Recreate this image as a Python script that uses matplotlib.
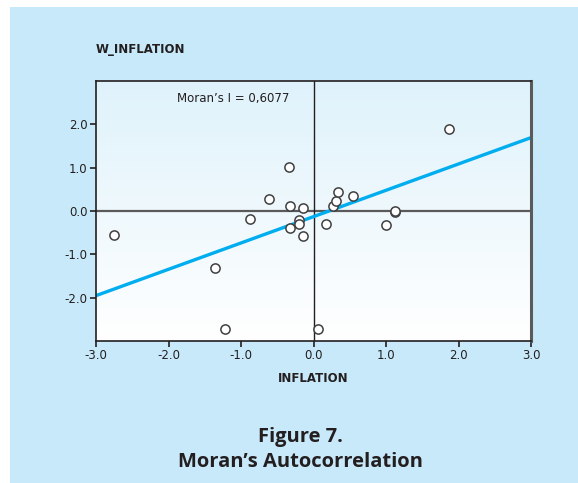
import matplotlib
matplotlib.use('Agg')
import matplotlib.pyplot as plt
import numpy as np

# data
inflation = [-2.75, -1.36, -1.22, -0.87, -0.62, -0.34, -0.32, -0.32, -0.20, -0.20,
             -0.15, -0.15, 0.06, 0.17, 0.27, 0.31, 0.34, 0.55, 1.00, 1.12, 1.13, 1.87]
w_inflation = [-0.55, -1.32, -2.72, -0.18, 0.28, 1.02, 0.11, -0.39, -0.21, -0.31,
               0.08, -0.58, -2.72, -0.30, 0.12, 0.23, 0.43, 0.34, -0.33, -0.02, -0.01, 1.89]
morans_i = 0.6077
intercept = -0.13
x_ticks = [-3.0, -2.0, -1.0, 0.0, 1.0, 2.0, 3.0]
y_ticks = [-2.0, -1.0, 0.0, 1.0, 2.0]

BG = '#c8e9f9'
DARK = '#231f20'
NARROW = ['Liberation Sans Narrow', 'DejaVu Sans']

plt.rcParams['font.family'] = ['Open Sans', 'DejaVu Sans']

fig = plt.figure(figsize=(5.78, 4.83), dpi=100)
fig.patch.set_facecolor('white')
# blue panel (white strip on the left and top)
panel = plt.Rectangle((10 / 578, 0), 1, 1 - 7 / 483, transform=fig.transFigure,
                      facecolor=BG, edgecolor='none', zorder=-10)
fig.patches.append(panel)

ax = fig.add_axes([96 / 578, 1 - 341 / 483, 435 / 578, 260 / 483])
ax.set_zorder(1)

# light blue -> white gradient inside the plot area
grad = np.linspace(0, 1, 256).reshape(-1, 1)
cmap = matplotlib.colors.LinearSegmentedColormap.from_list('bg', ['#dff2fb', '#ffffff'])
ax.imshow(grad, aspect='auto', cmap=cmap, extent=[-3, 3, -3, 3], origin='upper', zorder=0)
ax.set_xlim(-3, 3)
ax.set_ylim(-3, 3)

ax.axhline(0, color='#5a5a5a', linewidth=1.6, zorder=1)
ax.axvline(0, color=DARK, linewidth=1.0, zorder=1)

xs = np.array([-3, 3])
ax.plot(xs, morans_i * xs + intercept, color='#00aeef', linewidth=2.4, zorder=2)

ax.scatter(inflation, w_inflation, s=44, facecolor='white', edgecolor='#404040',
           linewidth=1.1, zorder=3)

ax.text(-1.11, 2.6, "Moran’s I = 0,6077", fontsize=8.5, color=DARK, ha='center', va='center',
        family=NARROW)

ax.set_xticks(x_ticks)
ax.set_xticklabels([f'{t:.1f}' for t in x_ticks])
ax.set_yticks(y_ticks)
ax.set_yticklabels([f'{t:.1f}' for t in y_ticks])
ax.tick_params(direction='out', length=4, width=1.2, color=DARK, labelsize=8.5,
               labelcolor=DARK, pad=2)
for lab in ax.get_xticklabels() + ax.get_yticklabels():
    lab.set_family(NARROW)

for side in ['left', 'bottom', 'top']:
    ax.spines[side].set_color(DARK)
    ax.spines[side].set_linewidth(1.2)
ax.spines['right'].set_color('#5a5a5a')
ax.spines['right'].set_linewidth(2.2)

fig.text(96 / 578, 1 - 50 / 483, 'W_INFLATION', fontsize=8.5, fontweight='bold', color=DARK,
         ha='left', va='center', family=NARROW)
fig.text(313 / 578, 1 - 379 / 483, 'INFLATION', fontsize=8.5, fontweight='bold', color=DARK,
         ha='center', va='center', family=NARROW)
fig.text(300 / 578, 1 - 437 / 483, 'Figure 7.', fontsize=14.5, fontweight='bold', color=DARK,
         ha='center', va='center')
fig.text(300 / 578, 1 - 462 / 483, "Moran’s Autocorrelation", fontsize=14.5, fontweight='bold',
         color=DARK, ha='center', va='center')

plt.savefig('out.png', dpi=100, facecolor=fig.get_facecolor())
